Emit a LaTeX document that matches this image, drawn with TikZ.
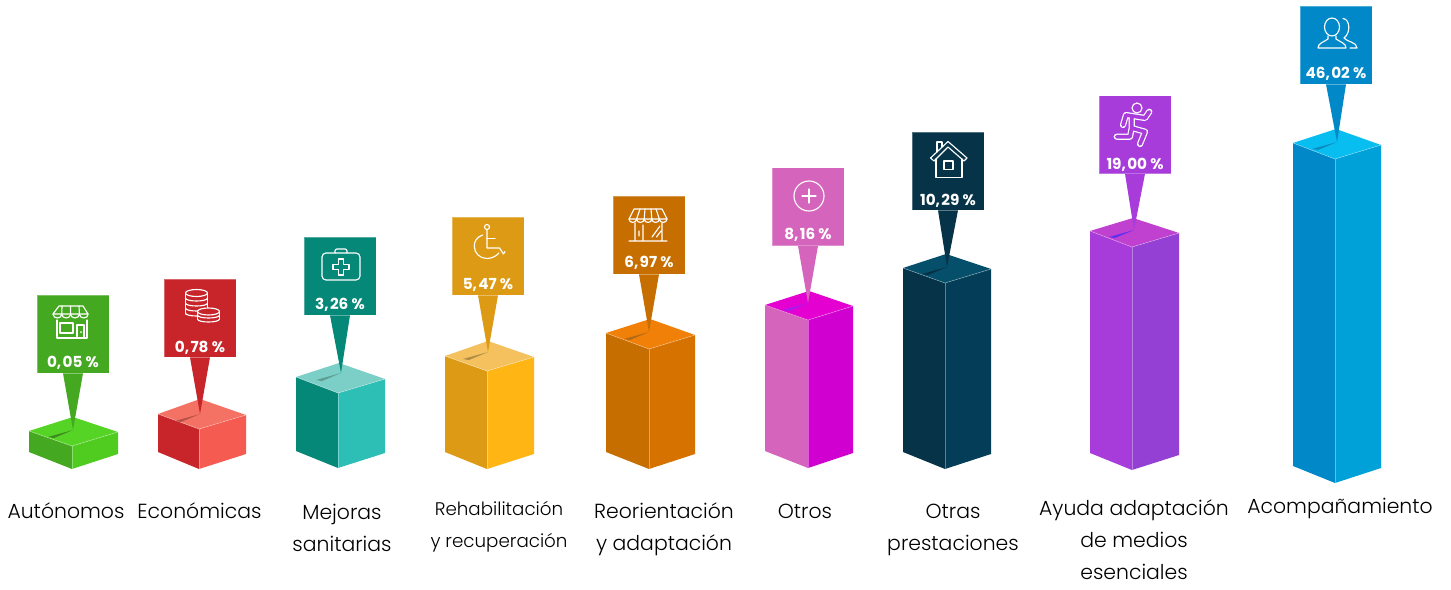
\documentclass[tikz,border=0pt]{standalone}
\usepackage{fontspec}
\setmainfont{Poppins}[UprightFont=* Light,BoldFont=* Bold]
\definecolor{gL}{HTML}{45A821}\definecolor{gR}{HTML}{4FCC1F}\definecolor{gT}{HTML}{56D425}\definecolor{gC}{HTML}{3C8A20}
\definecolor{rL}{HTML}{C8252B}\definecolor{rR}{HTML}{F55B50}\definecolor{rT}{HTML}{F47264}\definecolor{rC}{HTML}{B85048}
\definecolor{tL}{HTML}{068878}\definecolor{tR}{HTML}{2DBFB5}\definecolor{tT}{HTML}{7CCFC6}\definecolor{tC}{HTML}{5E9C94}
\definecolor{yL}{HTML}{DD9A14}\definecolor{yR}{HTML}{FFB514}\definecolor{yT}{HTML}{F4C15E}\definecolor{yC}{HTML}{B08C48}
\definecolor{oL}{HTML}{C66E00}\definecolor{oR}{HTML}{D67200}\definecolor{oT}{HTML}{F08008}\definecolor{oC}{HTML}{B06A14}
\definecolor{pL}{HTML}{D464BC}\definecolor{pR}{HTML}{D000D0}\definecolor{pT}{HTML}{E400D0}\definecolor{pC}{HTML}{A020F0}
\definecolor{nL}{HTML}{063347}\definecolor{nR}{HTML}{033D58}\definecolor{nT}{HTML}{064F6A}\definecolor{nC}{HTML}{053044}
\definecolor{uL}{HTML}{A83CDA}\definecolor{uR}{HTML}{9440D4}\definecolor{uT}{HTML}{C040D0}\definecolor{uC}{HTML}{6030F0}
\definecolor{bL}{HTML}{0088C8}\definecolor{bR}{HTML}{00A0D8}\definecolor{bT}{HTML}{08BDF0}\definecolor{bC}{HTML}{0A8CC0}
% prefix, xL, xF, xR, yBack, yL, yF, yR, yBottom
\newcommand\cubebar[9]{%
  \fill[#1L] (#2,#6) -- (#3,#7) -- (#3,#9) -- (#2,#9-17) -- cycle;
  \fill[#1R] (#3,#7) -- (#4,#8) -- (#4,#9-15) -- (#3,#9) -- cycle;
  \fill[#1T] (#2,#6) -- (#3+1,#5) -- (#4,#8) -- (#3,#7) -- cycle;
  \draw[edgeline] (#2,#6) -- (#3,#7) -- (#4,#8);
  \draw[edgeline] (#3,#7) -- (#3,#9);
}
% prefix, box centre x, box top y, tip x, tip y, value text, value y
\newcommand\callout[7]{%
  \fill[#1C] (#4,#5) -- (#4-25,#5+7) -- (#4-19,#5+8) -- cycle;
  \node[calloutbox,fill=#1L] (box#1) at (#2,#3+39) {};
  \coordinate (tip#1) at (#4,#5);
  \fill[#1L] ([xshift=-7.5pt]box#1.south) -- (tip#1) -- ([xshift=7.5pt]box#1.south) -- cycle;
  \node[valuetext] (val#1) at (#2,#7+.7) {#6};
}
\newcommand\lowarc[4]{(#1-#3,#2) .. controls (#1-#3,#2+#4*1.33) and (#1+#3,#2+#4*1.33) .. (#1+#3,#2)}
\newcommand\scallop[3]{(#1,#2) .. controls (#1,#2+#3*1.2) and (#1+#3*2,#2+#3*1.2) .. (#1+#3*2,#2)}
\tikzset{
  edgeline/.style={white,opacity=.35,line width=.5pt},
  calloutbox/.style={draw=white,draw opacity=.3,line width=.4pt,minimum width=54pt,minimum height=58.5pt,inner sep=0pt},
  valuetext/.style={text=white,inner sep=0pt,font=\fontsize{11.4}{13}\selectfont\bfseries},
  labeltext/.style={text=black,inner sep=0pt,align=center,font=\fontsize{15.3}{24}\selectfont},
  smalllabel/.style={labeltext,font=\fontsize{13.7}{24}\selectfont},
  icon/.style={draw=white,line width=.85pt,line join=round,line cap=round},
}
\begin{document}
\begin{tikzpicture}[x=.75pt,y=-.75pt]
\useasboundingbox (0,0) rectangle (1451,589);
\cubebar{g}{29}{72}{118}{417}{431}{446}{432}{469}
\cubebar{r}{158}{199}{246}{399}{414}{429}{415}{469}
\cubebar{t}{296}{338}{385}{363}{377}{393}{379}{468}
\cubebar{y}{445}{487}{534}{341}{356}{371}{357}{469}
\cubebar{o}{606}{649}{695}{319}{333}{349}{335}{469}
\cubebar{p}{765}{808}{853}{291}{305}{320}{306}{468}
\cubebar{n}{903}{945}{991}{254}{268}{283}{269}{469}
\cubebar{u}{1090}{1132}{1179}{218}{231}{247}{233}{470}
\cubebar{b}{1293}{1335}{1381}{129}{143}{159}{145}{483}
\callout{g}{73}{295}{73}{430}{0,\kern1pt 05 \%}{362}
\callout{r}{200}{279}{200}{414}{0,\kern1pt 78 \%}{347}
\callout{t}{340}{237}{341}{373}{3,\kern1pt 26 \%}{304}
\callout{y}{488}{217}{488}{352}{5,\kern1pt 47 \%}{284}
\callout{o}{649}{196}{649}{332}{6,\kern1pt 97 \%}{262}
\callout{p}{808}{167.5}{808}{303}{8,\kern1pt 16 \%}{234}
\callout{n}{948}{132}{947}{267}{10,\kern1pt 29 \%}{200}
\callout{u}{1135}{95.5}{1134}{230}{19,\kern1pt 00 \%}{164}
\callout{b}{1336}{6}{1337}{142}{46,\kern1pt 02 \%}{73}
% shop (green)
\draw[icon] (59,306) -- (83,306) -- (88,314) -- (53,314) -- cycle;
\draw[icon] \scallop{53}{314}{4.4} \scallop{61.8}{314}{4.4} \scallop{70.6}{314}{4.4} \scallop{79.4}{314}{4.4};
\draw[icon] (62,306) -- (61.8,314) (70.5,306) -- (70.6,314) (79,306) -- (79.4,314);
\draw[icon] (57,320) -- (57,338) -- (87,338) -- (87,320);
\draw[icon] (60,323) rectangle (73,333);
\draw[icon] (77,338) -- (77,325) -- (84,325) -- (84,338);
\fill[white] (81,332) circle[radius=1];
% coins (red)
\draw[icon] (196.5,293) circle[x radius=11,y radius=3.5];
\draw[icon] (185.5,293) -- (185.5,314) (207.5,293) -- (207.5,308);
\draw[icon] \lowarc{196.5}{298}{11}{3} \lowarc{196.5}{303}{11}{3} \lowarc{196.5}{308}{11}{3} \lowarc{196.5}{313}{11}{3};
\fill[rL] (197,311) rectangle (219,320);
\draw[icon,fill=rL] (208.5,311.5) circle[x radius=11,y radius=3.5];
\draw[icon] (197.5,311.5) -- (197.5,319) (219.5,311.5) -- (219.5,319);
\draw[icon] \lowarc{208.5}{315}{11}{3} \lowarc{208.5}{319}{11}{3};
% first-aid kit (teal)
\draw[icon,rounded corners=3pt] (322,253) rectangle (360,280);
\draw[icon,rounded corners=1.5pt] (335,253) -- (335,249) -- (347,249) -- (347,253);
\draw[icon] (338.2,259) -- (343.8,259) -- (343.8,264.2) -- (349,264.2) -- (349,269.8) -- (343.8,269.8) -- (343.8,275) -- (338.2,275) -- (338.2,269.8) -- (333,269.8) -- (333,264.2) -- (338.2,264.2) -- cycle;
% wheelchair (yellow)
\draw[icon] (487,227) circle[radius=2.5];
\draw[icon] (487,230) -- (487,248) -- (499.5,248) -- (503.5,254) -- (505,251.5);
\draw[icon] (487,238.5) -- (495,238.5);
\draw[icon] (482.7,235) .. controls (476.5,237) and (474,242) .. (474.3,246) .. controls (474,253) and (480,258.5) .. (486.7,258.5) .. controls (491,258.5) and (496,256.5) .. (499,253);
% shop (orange)
\draw[icon] (634,209) -- (662,209) -- (667,219) -- (629,219) -- cycle;
\draw[icon] \scallop{629}{219}{3.8} \scallop{636.6}{219}{3.8} \scallop{644.2}{219}{3.8} \scallop{651.8}{219}{3.8} \scallop{659.4}{219}{3.8};
\draw[icon] (640,209) -- (636.6,219) (645,209) -- (644.2,219) (651,209) -- (651.8,219) (656,209) -- (659.4,219);
\draw[icon] (635,223) -- (635,241) (662,223) -- (662,241) (629,241) -- (667,241) (643,225) -- (643,241) (639,231) -- (639,236) (652,237) -- (660,226) (656.5,237) -- (661,231);
% plus (pink)
\draw[icon] (809,196) circle[radius=15];
\draw[icon] (802,196) -- (816,196) (809,189) -- (809,203);
% house (navy)
\draw[icon] (948,141.5) -- (967,158) -- (964,161) -- (948,147) -- (934,161) -- (930.5,158) -- cycle;
\draw[icon] (937,152) -- (937,142) -- (942,142) -- (942,147);
\draw[icon] (936,159) -- (936,177.5) -- (962,177.5) -- (962,159);
\draw[icon] (944,161) rectangle (953,169.5);
% runner (purple)
\draw[icon] (1137,108) circle[radius=5];
\draw[white,line width=4.6pt,line cap=round,line join=round] (1149.3,111.7) -- (1145,118) -- (1126,115) -- (1123,125) (1131.7,116) -- (1131.7,128) -- (1130,136.7) -- (1116.7,136.7) (1131.7,128) -- (1145,131.7) -- (1140,144);
\draw[uL,line width=2.8pt,line cap=round,line join=round] (1149.3,111.7) -- (1145,118) -- (1126,115) -- (1123,125) (1131.7,116) -- (1131.7,128) -- (1130,136.7) -- (1116.7,136.7) (1131.7,128) -- (1145,131.7) -- (1140,144);
% people (blue)
\draw[icon] (1332,27) circle[x radius=7.5,y radius=9];
\draw[icon] (1328,36) -- (1328,39) .. controls (1324,42) and (1318,43) .. (1318,48) -- (1346,48) .. controls (1346,43) and (1340,42) .. (1336,39) -- (1336,36);
\draw[icon] (1343,18.5) .. controls (1350,19) and (1351,33) .. (1344,38) .. controls (1347,42) and (1357,42) .. (1357,48) -- (1350,48);
% labels
\node[labeltext] (lab1) at (66,510.6) {Autónomos};
\node[labeltext] (lab2) at (199.5,510.6) {Económicas};
\node[labeltext] (lab3) at (342,527.5) {Mejoras\\sanitarias};
\node[smalllabel] (lab4) at (499,527.2) {Rehabilitación\\y recuperación};
\node[labeltext] (lab5) at (664,529) {Reorientación\\y adaptación};
\node[labeltext] (lab6) at (805,511) {Otros};
\node[labeltext] (lab7) at (953,529.8) {Otras\\prestaciones};
\node[labeltext] (lab8) at (1134,540) {Ayuda adaptación\\de medios\\esenciales};
\node[labeltext] (lab9) at (1340,508) {Acompañamiento};
\end{tikzpicture}
\end{document}
